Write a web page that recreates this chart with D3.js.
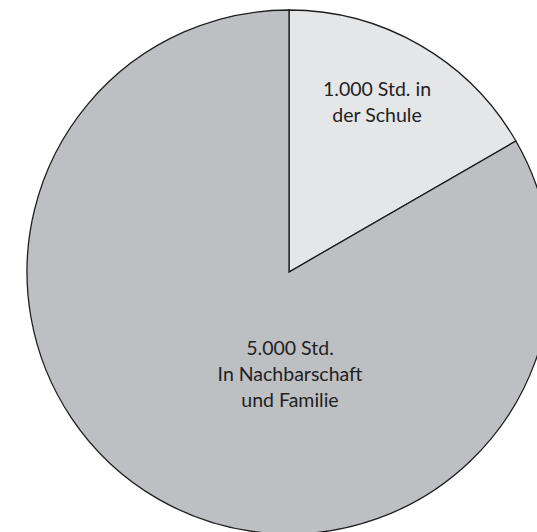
<!DOCTYPE html>
<html>
<head>
<meta charset="utf-8">
<script src="https://cdn.jsdelivr.net/npm/d3@7"></script>
<style>
  html, body { margin: 0; padding: 0; background: #fff; }
  svg { display: block; }
</style>
</head>
<body>
<script>
// Hours of learning: school vs. neighbourhood & family
const categories = ["Schule", "Nachbarschaft und Familie"];
const hours = [1000, 5000];
const labelLines = [
  ["1.000 Std. in", "der Schule"],
  ["5.000 Std.", "In Nachbarschaft", "und Familie"]
];
const colors = ["#e5e6e8", "#bebfc2"];

const W = 537, H = 532;
const cx = 289, cy = 272, R = 262;

const svg = d3.select("body").append("svg")
  .attr("width", W).attr("height", H);

const g = svg.append("g").attr("transform", `translate(${cx},${cy})`);

const pie = d3.pie().sort(null).value(d => d);
const arcs = pie(hours);
const arc = d3.arc().innerRadius(0).outerRadius(R);

g.selectAll("path.slice")
  .data(arcs)
  .join("path")
  .attr("class", "slice")
  .attr("d", arc)
  .attr("fill", (d, i) => colors[i])
  .attr("stroke", "#1e1e1e")
  .attr("stroke-width", 1.3)
  .attr("stroke-linejoin", "miter");

// first-line baseline of each label, relative to the pie centre
const anchors = [[88, -176], [1, 83]];
const lineH = 26;

labelLines.forEach((lines, i) => {
  const t = g.append("text")
    .attr("text-anchor", "middle")
    .attr("font-family", "Lato, sans-serif")
    .attr("font-size", 19.5)
    .attr("fill", "#222");
  lines.forEach((ln, j) => {
    t.append("tspan")
      .attr("x", anchors[i][0])
      .attr("y", anchors[i][1] + j * lineH)
      .text(ln);
  });
});
</script>
</body>
</html>
